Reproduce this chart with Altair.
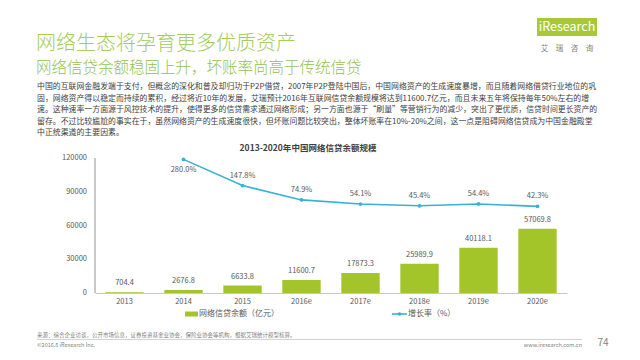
import altair as alt
import pandas as pd

# ---------------- data ----------------
years = ["2013", "2014", "2015", "2016e", "2017e", "2018e", "2019e", "2020e"]
balance = [704.4, 2676.8, 6633.8, 11600.7, 17873.3, 25989.9, 40118.1, 57069.8]
growth_years = ["2014", "2015", "2016e", "2017e", "2018e", "2019e", "2020e"]
growth = [280.0, 147.8, 74.9, 54.1, 45.4, 54.4, 42.3]
y_ticks = [0, 30000, 60000, 90000, 120000]

title_text = "网络生态将孕育更多优质资产"
subtitle_text = "网络信贷余额稳固上升，坏账率尚高于传统信贷"
paragraph_lines = [
    "中国的互联网金融发端于支付，但概念的深化和普及却归功于P2P借贷，2007年P2P登陆中国后，中国网络资产的生成速度暴增，而且随着网络借贷行业地位的巩",
    "固，网络资产得以稳定而持续的累积，经过将近10年的发展，艾瑞预计2016年互联网信贷余额规模将达到11600.7亿元，而且未来五年将保持每年50%左右的增",
    "速。这种速率一方面源于风控技术的提升，使得更多的信贷需求通过网络形成；另一方面也源于“刷量”等营销行为的减少，突出了更优质，信贷时间更长资产的",
    "留存。不过比较尴尬的事实在于，虽然网络资产的生成速度很快，但坏账问题比较突出，整体坏账率在10%-20%之间，这一点是阻碍网络信贷成为中国金融殿堂",
    "中正统渠道的主要因素。",
]
chart_title = "2013-2020年中国网络信贷余额规模"
legend_bar = "网络信贷余额（亿元）"
legend_line = "增长率（%）"
source_text = "来源：综合企业访谈，公开市场信息，证券投资基金业协会，保险业协会等机构，根据艾瑞统计模型核算。"
copyright_text = "©2016.8 iResearch Inc."
site_text = "www.iresearch.com.cn"
page_no = "74"
logo_sub = "艾　瑞　咨　询"

FONT = "Noto Sans CJK SC"
BAR_COLOR = "#a3c52a"
LINE_COLOR = "#36b3d3"
GREEN = "#a3cd5c"
LABEL = "#595959"
AXIS = "#c8c8c8"

# plot-area origin in page pixels
X0, Y0 = 95, 158
PW, PH = 472, 135


def px(x):
    return x - X0


def py(y):
    return y - Y0


bar_df = pd.DataFrame({"year": years, "balance": balance,
                       "label": [f"{v:.1f}" for v in balance]})
line_df = pd.DataFrame({"year": growth_years, "growth": growth,
                        "label": [f"{v:.1f}%" for v in growth]})
tick_df = pd.DataFrame({"balance": y_ticks, "label": [str(v) for v in y_ticks]})

x_enc = alt.X("year:N", sort=years,
              scale=alt.Scale(domain=years, paddingInner=0.35, paddingOuter=0.175),
              axis=alt.Axis(title=None, labelAngle=0, ticks=False, grid=False,
                            domainColor=AXIS, labelColor=LABEL, labelFont=FONT,
                            labelFontSize=7.5, labelPadding=4))

by = alt.Y("balance:Q", scale=alt.Scale(domain=[0, 120000]), axis=None)
bars = alt.Chart(bar_df).mark_bar(color=BAR_COLOR).encode(x=x_enc, y=by)
bar_labels = alt.Chart(bar_df).mark_text(dy=-9, fontSize=7.5, font=FONT, color=LABEL).encode(
    x=alt.X("year:N", sort=years), y=by, text="label:N")
y_labels = alt.Chart(tick_df).mark_text(align="right", baseline="middle", fontSize=7.5,
                                        font=FONT, color=LABEL).encode(
    x=alt.value(-8), y=by, text="label:N")
y_domain = alt.Chart(tick_df).mark_rule(color=AXIS, strokeWidth=1).encode(
    x=alt.value(0), y=alt.value(0), y2=alt.value(PH))
bar_group = alt.layer(bars, bar_labels, y_labels, y_domain)

gy = alt.Y("growth:Q", scale=alt.Scale(domain=[-396, 287]), axis=None)
gline = alt.Chart(line_df).mark_line(color=LINE_COLOR, strokeWidth=1.6).encode(
    x=alt.X("year:N", sort=years), y=gy)
gpts = alt.Chart(line_df).mark_point(color=LINE_COLOR, filled=True, size=14, opacity=1).encode(
    x=alt.X("year:N", sort=years), y=gy)
glab_first = alt.Chart(line_df).transform_filter(alt.datum.year == "2014").mark_text(
    dy=11, fontSize=7.5, font=FONT, color=LABEL).encode(
    x=alt.X("year:N", sort=years), y=gy, text="label:N")
glab_rest = alt.Chart(line_df).transform_filter(alt.datum.year != "2014").mark_text(
    dy=-10, fontSize=7.5, font=FONT, color=LABEL).encode(
    x=alt.X("year:N", sort=years), y=gy, text="label:N")
line_group = alt.layer(gline, gpts, glab_first, glab_rest)

one = pd.DataFrame({"k": [0]})


def txt(t, x, y, size, color, align="left", weight="normal", baseline="middle", **kw):
    return alt.Chart(one).mark_text(
        text=t, fontSize=size, color=color, align=align, baseline=baseline,
        fontWeight=weight, font=FONT, **kw
    ).encode(x=alt.value(px(x)), y=alt.value(py(y)))


def rect(x1, x2, y1, y2, color):
    return alt.Chart(one).mark_rect(color=color).encode(
        x=alt.value(px(x1)), x2=alt.value(px(x2)), y=alt.value(py(y1)), y2=alt.value(py(y2)))


def hrule(x1, x2, y, color, w=1):
    return alt.Chart(one).mark_rule(color=color, strokeWidth=w).encode(
        x=alt.value(px(x1)), x2=alt.value(px(x2)), y=alt.value(py(y)))


annotations = [
    txt(title_text, 36, 44, 20, GREEN, weight=300),
    txt(subtitle_text, 36, 68, 15.5, "#92c24e", weight=300),
    txt("\n".join(paragraph_lines), 37, 83, 7.9, "#404040", baseline="top",
        lineBreak="\n", lineHeight=11.6),
    txt(chart_title, 308, 148, 8.5, "#404040", align="center", weight="bold"),
    # legend
    rect(185, 198, 311.5, 316.5, BAR_COLOR),
    txt(legend_bar, 199, 314, 8, LABEL),
    hrule(392, 407, 314, LINE_COLOR, 1.6),
    alt.Chart(one).mark_point(color=LINE_COLOR, filled=True, size=12, opacity=1).encode(
        x=alt.value(px(399.5)), y=alt.value(py(314))),
    txt(legend_line, 408, 314, 8, LABEL),
    # footer
    txt(source_text, 37, 335, 5.5, "#7f7f7f"),
    hrule(37, 582, 339.5, AXIS, 0.8),
    txt(copyright_text, 37, 345, 5.5, "#7f7f7f"),
    txt(site_text, 582, 345, 5.5, "#7f7f7f", align="right"),
    txt(page_no, 603, 343, 10, "#7f7f7f", align="center"),
    # logo
    rect(537, 597, 18, 36, "#a8c83a"),
    txt("iResearch", 567, 27, 12.5, "white", align="center"),
    txt(logo_sub, 567, 49, 7.5, "#7f7f7f", align="center"),
]

chart = alt.layer(bar_group, line_group, *annotations).resolve_scale(
    y="independent"
).properties(
    width=PW, height=PH,
    padding={"left": X0 - 8, "top": Y0 - 8, "right": 640 - 8 - (X0 + PW),
             "bottom": 344 - (Y0 - 8) - PH},
    autosize=alt.AutoSizeParams(type="none"),
    background="white",
).configure_view(stroke=None)

chart.save("out.html", embed_options={"renderer": "svg", "actions": False})
